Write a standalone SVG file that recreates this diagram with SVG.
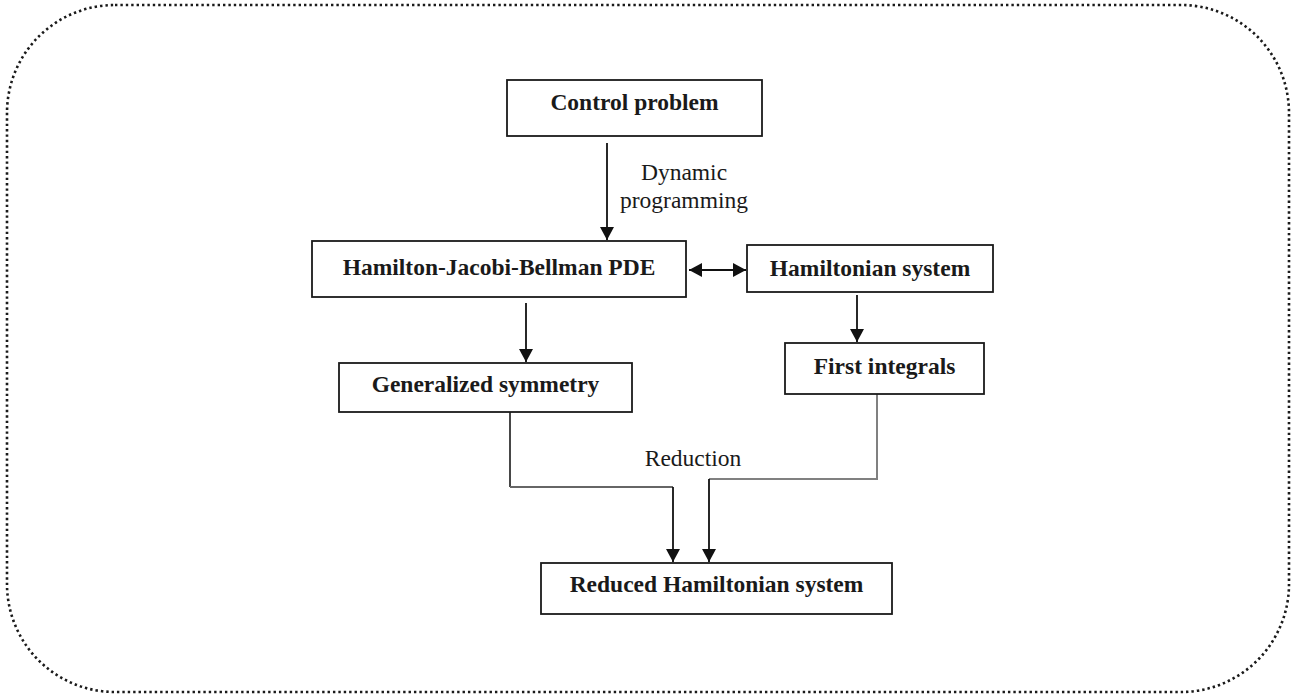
<svg xmlns="http://www.w3.org/2000/svg" width="1293" height="697" viewBox="0 0 1293 697">
<style>
.box{fill:#fff;stroke:#1a1a1a;stroke-width:1.8}
.t{font-family:"Liberation Serif","Times New Roman",serif;font-weight:bold;font-size:23.5px;fill:#1a1a1a;text-anchor:middle}
.l{font-family:"Liberation Serif","Times New Roman",serif;font-size:23.5px;fill:#1a1a1a;text-anchor:middle}
.c{fill:none;stroke:#111;stroke-width:1.8}
.g{fill:none;stroke:#808080;stroke-width:2}
</style>
<defs>
<marker id="ah" markerWidth="14" markerHeight="16" refX="13" refY="7" orient="auto-start-reverse" markerUnits="userSpaceOnUse" viewBox="0 0 14 14">
<path d="M0,0 L13,7 L0,14 Z" fill="#111"/>
</marker>
</defs>
<rect x="7" y="5" width="1282" height="687" rx="108" ry="108" fill="none" stroke="#1a1a1a" stroke-width="2.6" stroke-dasharray="2.4 3"/>
<g id="connectors">
<line class="c" x1="607" y1="143" x2="607" y2="240" marker-end="url(#ah)"/>
<line class="c" x1="689" y1="270" x2="746" y2="270" marker-end="url(#ah)" marker-start="url(#ah)"/>
<line class="c" x1="526" y1="303" x2="526" y2="362" marker-end="url(#ah)"/>
<line class="c" x1="857" y1="295" x2="857" y2="342" marker-end="url(#ah)"/>
<polyline fill="none" stroke="#333" stroke-width="1.8" points="510,412 510,487"/>
<polyline fill="none" stroke="#666" stroke-width="2" points="510,487 673,487"/>
<line class="c" x1="673" y1="487" x2="673" y2="562" marker-end="url(#ah)"/>
<polyline class="g" points="877,394 877,479 709,479"/>
<line class="c" x1="709" y1="479" x2="709" y2="562" marker-end="url(#ah)"/>
<text class="l" x="684" y="180">Dynamic</text>
<text class="l" x="684" y="208">programming</text>
<text class="l" x="693" y="466">Reduction</text>
</g>
<g id="control">
<rect class="box" x="507" y="80" width="255" height="56"/>
<text class="t" x="634.5" y="110">Control problem</text>
</g>
<g id="hjb">
<rect class="box" x="312" y="241" width="374" height="56"/>
<text class="t" x="499" y="275">Hamilton-Jacobi-Bellman PDE</text>
</g>
<g id="hamiltonian">
<rect class="box" x="747" y="245" width="246" height="47"/>
<text class="t" x="870" y="276">Hamiltonian system</text>
</g>
<g id="symmetry">
<rect class="box" x="339" y="363" width="293" height="49"/>
<text class="t" x="485.5" y="392">Generalized symmetry</text>
</g>
<g id="integrals">
<rect class="box" x="785" y="343" width="199" height="51"/>
<text class="t" x="884.5" y="374">First integrals</text>
</g>
<g id="reduced">
<rect class="box" x="541" y="563" width="351" height="51"/>
<text class="t" x="716.5" y="592">Reduced Hamiltonian system</text>
</g>
</svg>
